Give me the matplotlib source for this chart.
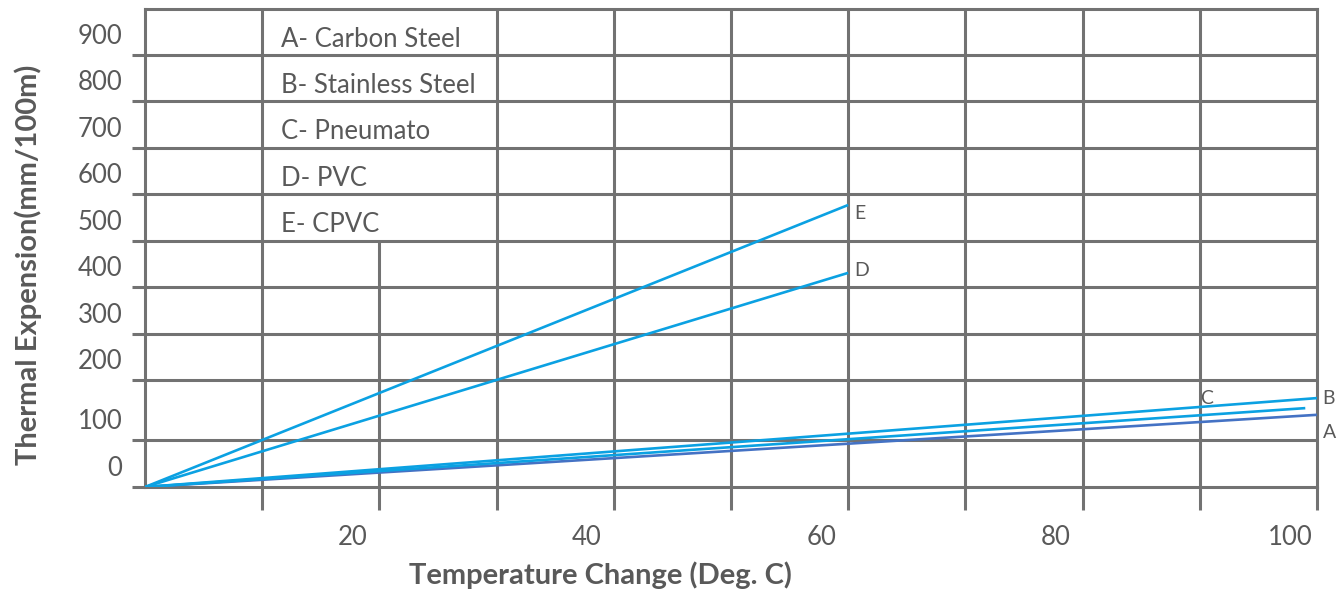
import matplotlib.pyplot as plt
from matplotlib.transforms import ScaledTranslation

# data (mm/100m vs deg C)
materials = ["A", "B", "C", "D", "E"]
legend_names = ["Carbon Steel", "Stainless Steel", "Pneumato", "PVC", "CPVC"]
x_end = [100, 100, 99, 60, 60]
y_end = [151, 186, 165, 448, 590]
line_colors = ["#4472C4", "#0BA1E2", "#0BA1E2", "#0BA1E2", "#0BA1E2"]

y_tick_labels = ["0", "100", "200", "300", "400", "500", "600", "700", "800", "900"]
# where the horizontal rules sit on the (uneven) drawn scale
y_rules = [0, 98, 224, 320, 418, 515, 613, 709, 808, 904]
x_ticks = [10, 20, 30, 40, 50, 60, 70, 80, 90, 100]
x_tick_labels = ["", "20", "", "40", "", "60", "", "80", "", "100"]

grid_c = "#727272"
text_c = "#595959"
plt.rcParams['font.family'] = ['Lato', 'DejaVu Sans']

fig = plt.figure(figsize=(13.41, 5.95), dpi=100)
ax = fig.add_axes([145 / 1341, 108 / 595, 1172 / 1341, 478 / 595])
ax.set_xlim(0, 100)
ax.set_ylim(0, 1000)

for s in ax.spines.values():
    s.set_color(grid_c)
    s.set_linewidth(2.2)

# horizontal rules
for v in y_rules[1:]:
    ax.axhline(v, color=grid_c, lw=2.2, zorder=1)
# vertical rules (the 20 line is hidden behind the legend text)
for xv in x_ticks[:-1]:
    top = 515 if xv == 20 else 1000
    ax.vlines(xv, 0, top, color=grid_c, lw=2.2, zorder=1)

ax.set_xticks(x_ticks, x_tick_labels)
ax.set_yticks(y_rules, y_tick_labels)
ax.tick_params(axis='x', length=16.5, width=2.2, color=grid_c, pad=11,
               labelsize=18.5, labelcolor=text_c)
ax.tick_params(axis='y', length=9.4, width=2.2, color=grid_c, pad=7,
               labelsize=18.5, labelcolor=text_c)
for lbl in ax.get_xticklabels():
    lbl.set_transform(lbl.get_transform() + ScaledTranslation(-0.27, 0, fig.dpi_scale_trans))
for lbl in ax.get_yticklabels():
    lbl.set_va('bottom')
    lbl.set_transform(lbl.get_transform() + ScaledTranslation(0, 0.06, fig.dpi_scale_trans))

# expansion lines
for m, xe, ye, c in zip(materials, x_end, y_end, line_colors):
    ax.plot([0, xe], [0, ye], color=c, lw=1.9, zorder=3, solid_capstyle='butt')

# end letters
fs_letter = 14
ax.annotate("E", (x_end[4], y_end[4]), xytext=(4, -6), textcoords='offset points',
            fontsize=fs_letter, color=text_c, ha='left', va='center')
ax.annotate("D", (x_end[3], y_end[3]), xytext=(4, 2), textcoords='offset points',
            fontsize=fs_letter, color=text_c, ha='left', va='center')
ax.annotate("B", (x_end[1], y_end[1]), xytext=(4, 0), textcoords='offset points',
            fontsize=fs_letter, color=text_c, ha='left', va='center')
ax.annotate("A", (x_end[0], y_end[0]), xytext=(4, -13), textcoords='offset points',
            fontsize=fs_letter, color=text_c, ha='left', va='center')
ax.annotate("C", (90, y_end[2] * 90 / x_end[2]), xytext=(0, 12), textcoords='offset points',
            fontsize=fs_letter, color=text_c, ha='left', va='center')

# legend text inside the grid rows
row_centers = [952, 856, 758, 661, 564]
for m, name, yc in zip(materials, legend_names, row_centers):
    ax.text(11.6, yc - 15, f"{m}- {name}", fontsize=18.5, color=text_c,
            ha='left', va='center')

ax.set_xlabel("Temperature Change (Deg. C)", fontsize=21, fontweight='bold',
              color=text_c)
ax.set_ylabel("Thermal Expension(mm/100m)", fontsize=21, fontweight='bold',
              color=text_c)
ax.yaxis.set_label_coords(-0.088, 0.464)
ax.xaxis.set_label_coords(0.389, -0.155)

fig.savefig("out.png", dpi=100)
